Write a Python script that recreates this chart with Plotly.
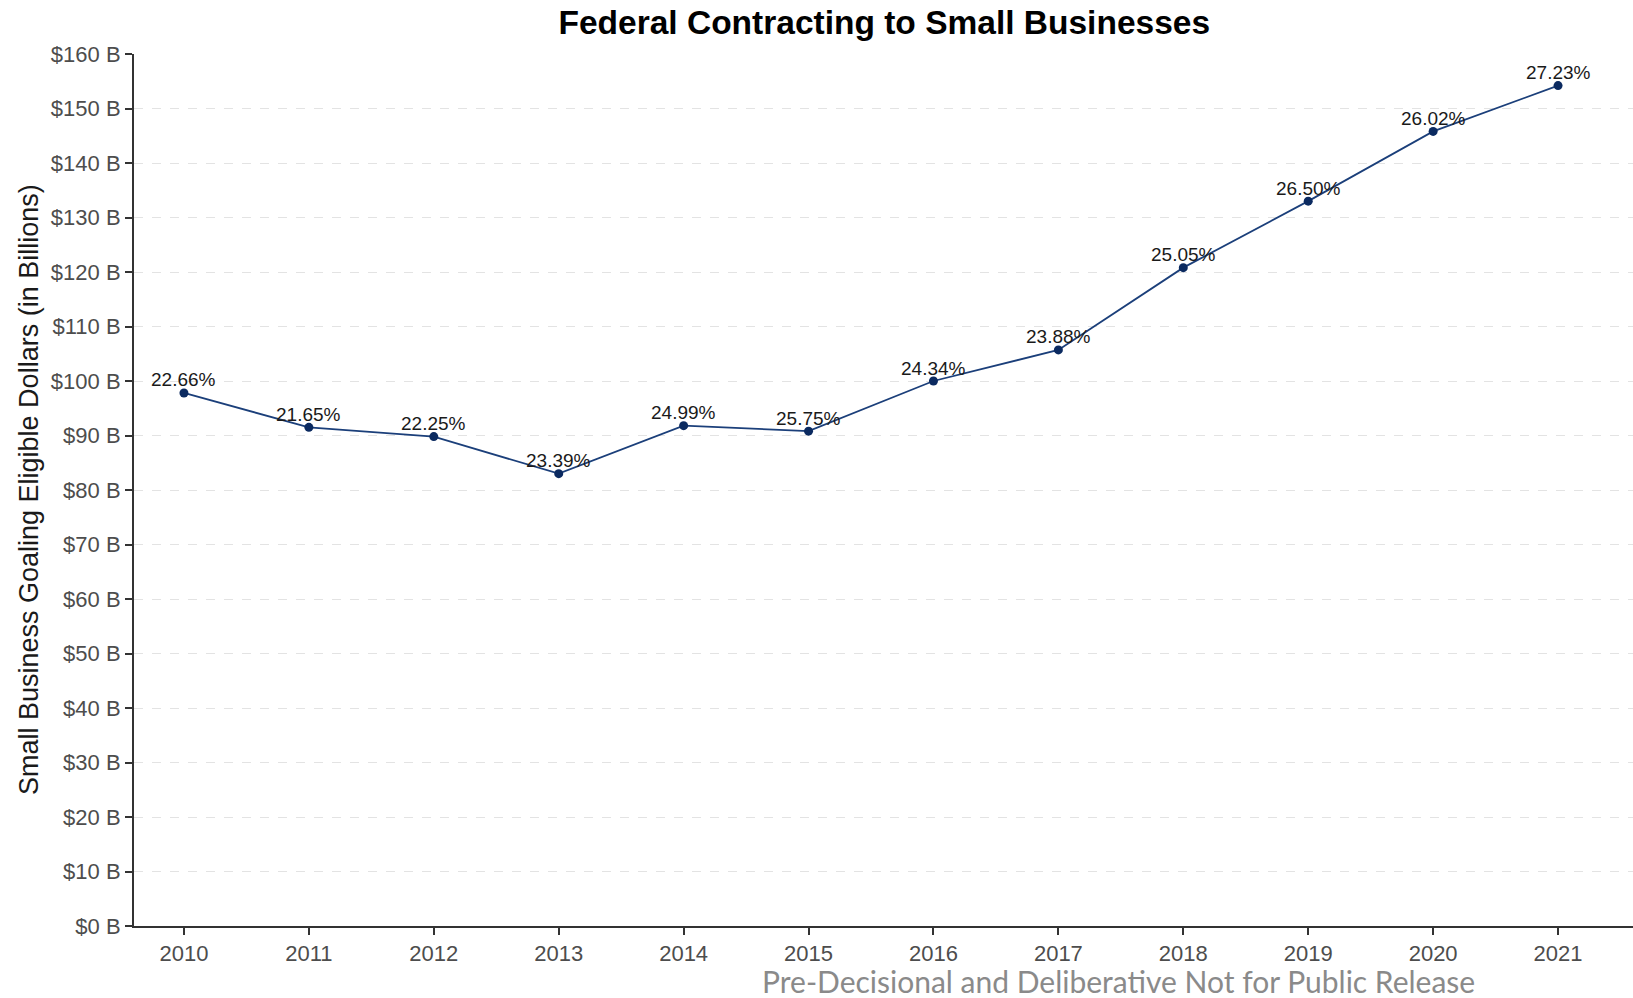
import plotly.graph_objects as go

years = [2010, 2011, 2012, 2013, 2014, 2015, 2016, 2017, 2018, 2019, 2020, 2021]
dollars_b = [97.8, 91.5, 89.8, 83.0, 91.8, 90.8, 100.0, 105.7, 120.8, 133.0, 145.8, 154.2]
pct_labels = ["22.66%", "21.65%", "22.25%", "23.39%", "24.99%", "25.75%",
              "24.34%", "23.88%", "25.05%", "26.50%", "26.02%", "27.23%"]
y_ticks = list(range(0, 161, 10))

fig = go.Figure()
fig.add_trace(go.Scatter(
    x=years, y=dollars_b, mode="lines+markers",
    line=dict(color="#1b3f7a", width=1.8),
    marker=dict(color="#0b2a60", size=9),
    hoverinfo="skip", showlegend=False,
))

for x, y, t in zip(years, dollars_b, pct_labels):
    fig.add_annotation(x=x, y=y, text=t, showarrow=False, yshift=13,
                       xanchor="center", yanchor="middle",
                       font=dict(family="Liberation Sans, Arial", size=19, color="#1a1a1a"))

fig.add_annotation(xref="paper", yref="paper", x=-0.070, y=0.5,
                   text="Small Business Goaling Eligible Dollars (in Billions)",
                   textangle=-90, showarrow=False, xanchor="center", yanchor="middle",
                   font=dict(family="Liberation Sans, Arial", size=27, color="#1a1a1a"))

fig.add_annotation(xref="paper", yref="paper", x=0.657, y=-0.0625,
                   text="Pre-Decisional and Deliberative Not for Public Release",
                   showarrow=False, xanchor="center", yanchor="middle",
                   font=dict(family="Lato", size=30, color="#8a8a8a"))

fig.update_layout(
    width=1633, height=998,
    margin=dict(l=134, r=0, t=54, b=72),
    paper_bgcolor="white", plot_bgcolor="white",
    title=dict(text="<b>Federal Contracting to Small Businesses</b>",
               x=0.5415, xanchor="center", y=1 - 22 / 998, yanchor="middle",
               font=dict(family="Liberation Sans, Arial", size=33.5, color="#000000")),
    xaxis=dict(range=[2009.6, 2021.6], tickvals=years, ticktext=[str(y) for y in years],
               showgrid=False, zeroline=False, showline=True, linecolor="#333333", linewidth=2,
               ticks="outside", ticklen=7, tickwidth=1.5, tickcolor="#333333",
               tickfont=dict(family="Liberation Sans, Arial", size=22, color="#4d4d4d")),
    yaxis=dict(range=[0, 160], tickvals=y_ticks, ticktext=[f"${v} B" for v in y_ticks],
               showgrid=True, gridcolor="#e3e3e3", griddash="dash", gridwidth=1.2,
               zeroline=False, showline=True, linecolor="#333333", linewidth=2,
               ticks="outside", ticklen=7, tickwidth=1.5, tickcolor="#333333",
               tickfont=dict(family="Liberation Sans, Arial", size=22, color="#4d4d4d")),
)

fig.write_html("out.html")
